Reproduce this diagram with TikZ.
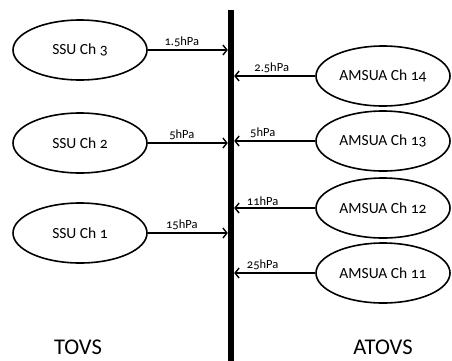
\documentclass[tikz,border=0pt]{standalone}
\usepackage{fontspec}
\setmainfont[Numbers=OldStyle]{Carlito}
\usetikzlibrary{shapes.geometric,arrows.meta}
\tikzset{
  chan/.style={draw, ellipse, line width=1.6pt, minimum width=134pt, minimum height=60pt, inner sep=0pt, font=\fontsize{15.5}{18}\selectfont},
  feed/.style={line width=1.6pt, -{Straight Barb[length=4pt,width=10pt,line width=1.4pt]}},
  hpa/.style={font=\fontsize{12.5}{14}\selectfont, above, inner sep=2pt},
  group/.style={font=\fontsize{22.5}{26}\selectfont}
}
\begin{document}
\begin{tikzpicture}[x=1pt,y=-1pt]
  \useasboundingbox (0,0) rectangle (452,360);
  % the vertical axis
  \node[fill=black, minimum width=6pt, minimum height=351pt, inner sep=0pt] (axis) at (231,185.5) {};
  % TOVS side
  \node[chan] (ssu3) at (80,50) {SSU Ch 3};
  \node[chan] (ssu2) at (80,143) {SSU Ch 2};
  \node[chan] (ssu1) at (80,233) {SSU Ch 1};
  % ATOVS side
  \node[chan] (amsua14) at (383,76) {AMSUA Ch 14};
  \node[chan] (amsua13) at (383,141) {AMSUA Ch 13};
  \node[chan] (amsua12) at (383,208) {AMSUA Ch 12};
  \node[chan] (amsua11) at (383,273) {AMSUA Ch 11};
  \draw[feed] (ssu3) -- node[hpa, xshift=-6pt] {1.5hPa} (ssu3 -| axis.west);
  \draw[feed] (ssu2) -- node[hpa, xshift=-6pt] {5hPa} (ssu2 -| axis.west);
  \draw[feed] (ssu1) -- node[hpa, xshift=-6pt] {15hPa} (ssu1 -| axis.west);
  \draw[feed] (amsua14) -- node[hpa, xshift=-3pt] {2.5hPa} (amsua14 -| axis.east);
  \draw[feed] (amsua13) -- node[hpa, xshift=-12pt] {5hPa} (amsua13 -| axis.east);
  \draw[feed] (amsua12) -- node[hpa, xshift=-12pt] {11hPa} (amsua12 -| axis.east);
  \draw[feed] (amsua11) -- node[hpa, xshift=-12pt] {25hPa} (amsua11 -| axis.east);
  \node[group] (tovs) at (78,347) {TOVS};
  \node[group] (atovs) at (383,347) {ATOVS};
\end{tikzpicture}
\end{document}
